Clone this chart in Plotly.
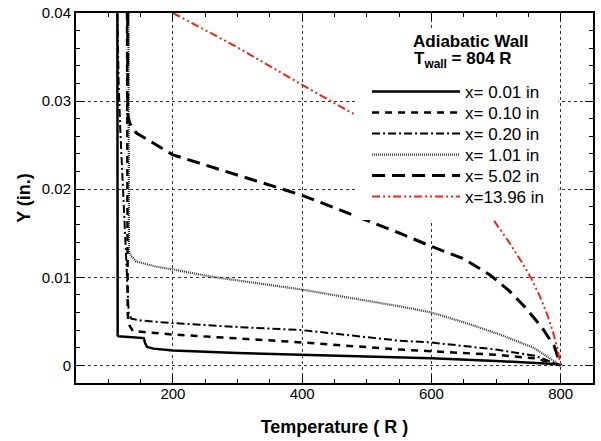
import plotly.graph_objects as go

# ---- data ----
labels = ["x= 0.01 in", "x= 0.10 in", "x= 0.20 in", "x= 1.01 in", "x= 5.02 in", "x=13.96 in"]

t_001 = [114, 114, 114.5, 116, 140, 155, 157, 160, 170, 200, 300, 400, 500, 600, 700, 760, 790, 800]
y_001 = [0.04, 0.01, 0.0034, 0.0033, 0.0032, 0.0031, 0.0025, 0.0021, 0.0019, 0.0017, 0.0014, 0.0012, 0.0010, 0.0008, 0.0005, 0.00032, 0.00015, 0.0]

t_010 = [129, 129, 130, 131, 133, 138, 164, 200, 314, 400, 551, 600, 700, 760, 800]
y_010 = [0.04, 0.01, 0.006, 0.0050, 0.0045, 0.0039, 0.0037, 0.0035, 0.0030, 0.0026, 0.0018, 0.0016, 0.0012, 0.0008, 0.0]

t_020 = [114, 116, 118.5, 125.7, 131.5, 135.6, 150, 164, 200, 314, 400, 551, 600, 700, 760, 800]
y_020 = [0.04, 0.032, 0.0268, 0.0151, 0.0060, 0.0053, 0.0051, 0.0050, 0.0048, 0.0043, 0.0040, 0.0028, 0.0026, 0.0018, 0.0011, 0.0]

t_101 = [131, 131, 132, 135.6, 143, 174, 200, 257, 400, 551, 600, 654, 706, 758, 800]
y_101 = [0.04, 0.02, 0.0128, 0.0124, 0.0118, 0.0112, 0.0109, 0.0101, 0.0086, 0.0067, 0.0060, 0.0048, 0.0035, 0.0020, 0.0]

t_502 = [130, 130, 133, 143, 200, 257, 300, 400, 551, 600, 650, 690, 720, 745, 770, 790, 800]
y_502 = [0.04, 0.0285, 0.0275, 0.0264, 0.0239, 0.0226, 0.0216, 0.0193, 0.0150, 0.0135, 0.0121, 0.0103, 0.0085, 0.0066, 0.0044, 0.0022, 0.0]

t_1396 = [200, 300, 396, 483, None, 697, 720, 740, 755, 768, 779, 788, 795, 800]
y_1396 = [0.040, 0.0361, 0.0320, 0.0284, None, 0.0164, 0.0140, 0.0117, 0.0098, 0.0078, 0.0058, 0.0038, 0.0019, 0.0]

x_ticks = [200, 400, 600, 800]
y_ticks = [0, 0.01, 0.02, 0.03, 0.04]

series = [
    (t_001, y_001, dict(color="black", width=2.5, dash="solid")),
    (t_010, y_010, dict(color="black", width=2.5, dash="7px,6px")),
    (t_020, y_020, dict(color="black", width=2, dash="8px,3px,2px,3px")),
    (t_101, y_101, dict(color="#333333", width=2.2, dash="1px,1px")),
    (t_502, y_502, dict(color="black", width=3, dash="13px,7px")),
    (t_1396, y_1396, dict(color="#e4281a", width=2, dash="8px,3px,2px,3px,2px,3px")),
]

FONT = "Liberation Sans, Arial, Helvetica, sans-serif"

# plot-area geometry in pixels (for placing legend rows)
PLOT_TOP, PLOT_BOTTOM = 13, 383
PLOT_H = PLOT_BOTTOM - PLOT_TOP
row_px = [92, 113, 134, 155, 176, 197]

fig = go.Figure()
legend_layouts = {}
for i, ((tx, ty, ln), name) in enumerate(zip(series, labels)):
    key = "legend" if i == 0 else f"legend{i + 1}"
    fig.add_trace(go.Scatter(x=tx, y=ty, mode="lines", name=name, line=ln,
                             connectgaps=False, legend=key))
    legend_layouts[key] = dict(
        x=0.563, y=(PLOT_BOTTOM - row_px[i]) / PLOT_H, xanchor="left", yanchor="middle",
        bgcolor="rgba(0,0,0,0)", borderwidth=0, itemwidth=88,
        font=dict(family=FONT, size=17, color="black"))

axis_common = dict(
    showline=True, linewidth=2, linecolor="black", mirror="allticks",
    ticks="inside", ticklen=8, tickwidth=1, tickcolor="black",
    showgrid=True, gridcolor="#333333", gridwidth=1, griddash="3px,3px",
    zeroline=False, automargin=False,
    tickfont=dict(family=FONT, size=15, color="black"),
)

fig.update_xaxes(range=[50, 850], tickvals=x_ticks, ticklabelstandoff=-4,
                 minor=dict(ticks="inside", ticklen=4, dtick=50, tick0=0, tickcolor="black", showgrid=False),
                 title=dict(text="<b>Temperature ( R )</b>", font=dict(family=FONT, size=18, color="black"), standoff=19),
                 **axis_common)
fig.update_yaxes(range=[-0.002, 0.0400001], tickvals=y_ticks,
                 minor=dict(ticks="inside", ticklen=4, dtick=0.002, tick0=0, tickcolor="black", showgrid=False),
                 title=dict(text="<b>Y (in.)</b>", font=dict(family=FONT, size=18, color="black"), standoff=6),
                 **axis_common)

# white backing box of the legend (hides curves & grid behind it)
fig.add_shape(type="rect", xref="paper", yref="paper", x0=0.5438, x1=0.9329, y0=0.4405, y1=0.9595,
              fillcolor="white", line=dict(width=0), layer="above")

fig.add_annotation(text="<b>Adiabatic Wall</b>", xref="paper", yref="paper", x=0.7635, y=0.9224,
                   xanchor="center", yanchor="middle",
                   showarrow=False, font=dict(family=FONT, size=17, color="black"))
fig.add_annotation(text="<b>T<sub>wall</sub> = 804 R</b>", xref="paper", yref="paper", x=0.748, y=0.873,
                   xanchor="center", yanchor="middle",
                   showarrow=False, font=dict(family=FONT, size=17, color="black"))

fig.update_layout(
    width=601, height=441,
    margin=dict(l=76, r=8, t=PLOT_TOP, b=441 - PLOT_BOTTOM, autoexpand=False),
    paper_bgcolor="white", plot_bgcolor="white",
    font=dict(family=FONT, color="black"),
    showlegend=True,
    **legend_layouts,
)

fig.write_html("out.html")
